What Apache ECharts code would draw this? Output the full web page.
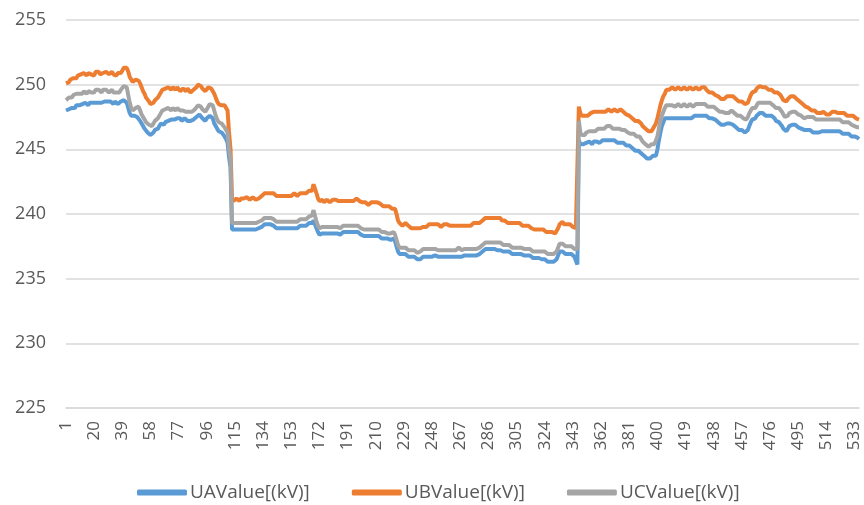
<!DOCTYPE html>
<html>
<head>
<meta charset="utf-8">
<script src="https://cdn.jsdelivr.net/npm/echarts@6/dist/echarts.min.js"></script>
<style>html,body{margin:0;padding:0;background:#fff}#c{width:864px;height:505px}</style>
</head>
<body>
<div id="c"></div>
<script>
const seriesNames = ['UAValue[(kV)]', 'UBValue[(kV)]', 'UCValue[(kV)]'];
const yTicks = [225, 230, 235, 240, 245, 250, 255];

const UA = [
248.0,248.1,248.1,248.2,248.2,248.3,248.2,248.4,248.3,248.4,
248.4,248.5,248.4,248.6,248.5,248.4,248.6,248.5,248.6,248.5,
248.6,248.5,248.6,248.7,248.6,248.5,248.7,248.6,248.7,248.6,
248.7,248.6,248.5,248.7,248.6,248.5,248.6,248.7,248.6,248.8,
248.8,248.6,248.2,247.8,247.6,247.7,247.6,247.7,247.5,247.4,
247.2,247.0,246.8,246.6,246.5,246.3,246.2,246.1,246.0,246.3,
246.5,246.4,246.6,246.8,247.0,247.0,246.9,247.1,247.0,247.2,
247.1,247.3,247.4,247.3,247.2,247.4,247.3,247.4,247.2,247.3,
247.4,247.3,247.2,247.3,247.2,247.1,247.3,247.4,247.5,247.6,
247.7,247.6,247.4,247.3,247.2,247.4,247.5,247.6,247.5,247.4,
247.0,246.8,246.6,246.4,246.3,246.3,246.2,246.0,245.8,245.5,
244.4,243.6,
238.8,238.7,238.8,238.7,238.8,238.9,238.8,238.7,
238.8,238.9,238.8,238.7,238.8,238.9,238.8,238.9,238.8,238.9,
238.9,238.9,239.0,239.1,239.2,239.1,239.2,239.1,239.2,239.1,
239.1,239.0,238.9,239.0,238.9,238.8,238.9,238.8,238.9,239.0,
238.9,238.8,238.9,239.0,238.9,239.0,238.9,239.0,239.1,239.0,
239.1,239.0,239.1,239.2,239.3,239.2,239.3,239.5,239.5,238.9,
238.6,238.4,238.4,238.5,238.4,238.5,238.6,238.5,238.4,238.5,
238.6,238.5,238.4,238.5,238.4,238.4,238.5,238.6,238.5,238.6,
238.5,238.6,238.7,238.6,238.7,238.6,238.7,238.6,238.5,238.4,
238.4,238.3,238.4,238.3,238.2,238.3,238.4,238.3,238.2,238.3,
238.4,238.3,238.2,238.1,238.2,238.1,238.2,238.1,238.0,238.0,
238.0,238.1,237.9,237.5,237.1,
236.9,236.8,236.9,237.0,236.9,
236.8,236.7,236.8,236.7,236.6,236.7,236.6,236.5,236.5,236.5,
236.6,236.7,236.6,236.7,236.8,236.7,236.8,236.7,236.8,236.8,
236.8,236.7,236.8,236.7,236.6,236.7,236.6,236.7,236.6,236.7,
236.8,236.7,236.8,236.7,236.8,236.7,236.8,236.7,236.7,236.8,
236.7,236.8,236.9,236.8,236.9,236.8,236.9,236.8,236.9,236.9,
237.0,237.1,237.2,237.3,237.2,237.3,237.4,237.3,237.4,237.3,
237.3,237.2,237.3,237.2,237.1,237.1,237.2,237.1,237.0,237.1,
237.0,236.9,237.0,236.9,237.0,236.9,236.8,236.9,236.8,236.8,
236.7,236.8,236.7,236.8,236.7,236.6,236.7,236.6,236.7,236.6,
236.6,236.5,236.4,236.5,236.4,236.3,236.4,236.3,236.4,236.3,
236.4,236.5,236.8,237.1,237.2,237.1,237.0,236.9,237.0,236.9,
237.0,236.9,236.8,236.7,236.6,236.1,
245.7,245.4,245.3,245.4,
245.3,245.5,245.4,245.6,245.5,245.4,245.6,245.5,245.6,245.5,
245.5,245.6,245.7,245.6,245.7,245.6,245.7,245.6,245.7,245.6,
245.7,245.6,245.5,245.6,245.5,245.6,245.5,245.4,245.3,245.4,
245.3,245.2,245.1,245.0,244.9,245.0,244.9,244.8,244.7,244.6,
244.5,244.4,244.3,244.2,244.3,244.4,244.5,244.6,244.5,245.0,
245.7,246.3,246.8,247.1,247.4,247.5,247.4,247.5,247.4,247.3,
247.4,247.3,247.4,247.5,247.4,247.3,247.4,247.5,247.4,247.3,
247.4,247.5,247.4,247.5,247.6,247.5,247.6,247.5,247.6,247.7,
247.6,247.7,247.6,247.5,247.4,247.5,247.4,247.3,247.3,247.2,
247.1,247.0,246.9,247.0,246.9,246.9,247.0,246.9,247.0,246.9,
246.9,246.8,246.7,246.6,246.5,246.4,246.5,246.4,246.3,246.3,
246.5,246.8,247.1,247.3,247.4,247.4,247.6,247.7,247.8,247.7,
247.8,247.7,247.6,247.7,247.6,247.7,247.6,247.5,247.4,247.2,
247.2,247.1,247.0,246.8,246.6,246.5,246.4,246.6,246.8,246.9,
246.9,247.0,246.9,246.8,246.7,246.6,246.6,246.5,246.5,246.4,
246.5,246.4,246.5,246.4,246.3,246.4,246.3,246.4,246.3,246.3,
246.4,246.3,246.4,246.3,246.4,246.3,246.4,246.5,246.4,246.3,
246.4,246.3,246.4,246.3,246.2,246.3,246.2,246.1,246.2,246.1,
246.0,246.1,246.0,245.9,245.9,245.8
];

const UB = [
250.1,250.2,250.2,250.4,250.3,250.5,250.6,250.5,250.7,250.6,
250.8,250.7,250.9,250.8,250.7,250.9,251.0,250.8,250.9,250.7,
251.0,250.9,251.0,250.8,250.7,250.9,250.8,251.0,250.9,250.8,
250.9,251.0,250.8,250.9,250.7,250.9,250.8,250.9,251.1,251.3,
251.4,251.3,251.0,250.6,250.4,250.2,250.3,250.4,250.5,250.3,
250.1,249.8,249.5,249.3,249.0,248.9,248.7,248.5,248.4,248.6,
248.8,248.7,249.0,249.2,249.3,249.6,249.5,249.7,249.6,249.8,
249.7,249.6,249.8,249.7,249.6,249.8,249.7,249.5,249.6,249.7,
249.6,249.5,249.7,249.6,249.4,249.5,249.6,249.7,249.8,250.0,
250.1,249.9,249.7,249.6,249.5,249.6,249.8,249.9,249.7,249.6,
249.3,249.0,248.7,248.5,248.4,248.4,248.5,248.4,248.2,248.0,
246.3,245.0,
241.2,241.0,241.1,241.2,241.1,241.0,241.2,241.1,
241.2,241.1,241.3,241.2,241.1,241.2,241.3,241.2,241.1,241.2,
241.2,241.3,241.4,241.5,241.6,241.5,241.6,241.7,241.6,241.5,
241.6,241.5,241.4,241.3,241.4,241.3,241.4,241.3,241.4,241.5,
241.4,241.5,241.4,241.5,241.6,241.5,241.4,241.5,241.6,241.5,
241.6,241.5,241.6,241.7,241.8,241.7,241.8,242.3,242.4,241.6,
241.2,241.0,241.0,241.1,240.9,241.0,241.1,241.0,240.9,241.0,
241.1,241.0,241.1,241.0,241.0,240.9,241.0,241.1,241.0,241.1,
241.0,240.9,241.0,241.1,241.0,241.1,241.2,241.1,241.0,240.9,
240.9,240.8,240.9,240.8,240.7,240.8,240.9,240.8,240.9,240.8,
240.9,241.0,240.8,240.7,240.6,240.7,240.6,240.5,240.6,240.5,
240.4,240.5,240.4,240.0,239.5,
239.3,239.2,239.1,239.2,239.3,
239.2,239.1,239.0,238.9,239.0,238.9,238.8,238.9,239.0,238.9,
238.9,239.0,239.1,239.0,239.1,239.2,239.1,239.2,239.1,239.2,
239.1,239.2,239.1,239.0,239.1,239.2,239.1,239.2,239.1,239.1,
239.2,239.1,239.0,239.1,239.2,239.1,239.2,239.1,239.0,239.1,
239.2,239.1,239.2,239.1,239.2,239.3,239.2,239.3,239.2,239.3,
239.4,239.5,239.6,239.7,239.6,239.7,239.8,239.7,239.6,239.7,
239.8,239.7,239.6,239.7,239.5,239.4,239.5,239.4,239.3,239.4,
239.3,239.4,239.3,239.2,239.3,239.2,239.3,239.2,239.1,239.2,
239.1,239.0,239.1,239.0,238.9,238.9,238.8,238.9,238.8,238.8,
238.8,238.7,238.8,238.7,238.6,238.7,238.6,238.5,238.6,238.5,
238.5,238.6,238.9,239.2,239.3,239.4,239.2,239.1,239.2,239.1,
239.2,239.1,239.0,238.9,238.9,239.0,
248.3,247.8,247.6,247.7,
247.6,247.7,247.6,247.7,247.8,247.7,247.9,247.8,247.9,247.8,
247.9,248.0,247.9,248.0,247.9,248.0,248.1,248.0,247.9,248.0,
248.1,248.0,247.9,248.0,248.1,248.0,247.9,247.8,247.7,247.6,
247.6,247.5,247.4,247.3,247.2,247.1,247.2,247.1,247.0,246.8,
246.7,246.6,246.5,246.4,246.5,246.4,246.6,246.7,247.0,247.4,
247.9,248.4,248.8,249.1,249.3,249.6,249.7,249.6,249.7,249.8,
249.7,249.6,249.7,249.8,249.7,249.6,249.7,249.8,249.7,249.6,
249.7,249.8,249.7,249.6,249.7,249.8,249.7,249.6,249.7,249.8,
249.7,249.8,249.6,249.5,249.4,249.3,249.4,249.3,249.2,249.1,
249.1,249.0,248.9,249.0,248.9,249.0,249.1,249.0,249.1,249.2,
249.1,249.0,248.9,248.8,248.7,248.8,248.7,248.6,248.5,248.4,
248.6,248.9,249.2,249.4,249.5,249.5,249.7,249.8,249.9,249.8,
249.8,249.7,249.8,249.7,249.6,249.7,249.6,249.5,249.4,249.3,
249.4,249.3,249.2,249.0,248.8,248.7,248.7,248.9,249.0,249.1,
249.2,249.1,249.0,248.9,248.8,248.7,248.6,248.5,248.4,248.3,
248.2,248.2,248.1,248.0,247.9,248.0,247.9,247.8,247.9,247.8,
247.8,247.9,247.8,247.7,247.8,247.7,247.8,247.9,247.8,247.9,
247.9,247.8,247.9,247.8,247.7,247.8,247.7,247.6,247.7,247.6,
247.5,247.6,247.5,247.4,247.3,247.3
];

const UC = [
248.8,248.9,249.0,249.1,249.0,249.2,249.1,249.3,249.2,249.3,
249.4,249.3,249.5,249.4,249.3,249.5,249.6,249.4,249.5,249.4,
249.6,249.5,249.6,249.5,249.4,249.6,249.5,249.6,249.5,249.4,
249.5,249.6,249.4,249.5,249.4,249.5,249.4,249.6,249.7,249.9,
250.0,249.8,249.2,248.6,248.2,248.0,248.1,248.2,248.3,248.3,
248.0,247.7,247.5,247.3,247.1,247.0,246.9,246.9,246.8,247.0,
247.2,247.1,247.4,247.6,247.8,248.0,247.9,248.1,248.0,248.2,
248.1,248.0,248.2,248.1,248.0,248.2,248.1,248.0,247.9,248.0,
248.1,247.9,248.0,247.9,247.8,247.9,248.0,248.1,248.2,248.4,
248.4,248.3,248.1,248.0,247.9,248.1,248.3,248.5,248.6,248.4,
248.0,247.6,247.3,247.1,247.0,247.0,246.9,246.7,246.5,246.3,
245.0,244.2,
239.3,239.2,239.3,239.2,239.3,239.4,239.3,239.2,
239.3,239.4,239.3,239.2,239.3,239.4,239.3,239.4,239.3,239.4,
239.4,239.4,239.5,239.6,239.7,239.6,239.7,239.6,239.7,239.6,
239.6,239.5,239.4,239.5,239.4,239.3,239.4,239.3,239.4,239.5,
239.4,239.3,239.4,239.5,239.4,239.5,239.4,239.5,239.6,239.5,
239.6,239.5,239.6,239.7,239.8,239.7,239.9,240.3,240.2,239.4,
239.1,238.9,238.9,239.0,238.9,239.0,239.1,239.0,238.9,239.0,
239.1,239.0,239.1,239.0,239.0,238.9,239.0,239.1,239.0,239.1,
239.0,239.1,239.2,239.1,239.2,239.1,239.2,239.1,239.0,238.9,
238.9,238.8,238.9,238.8,238.7,238.8,238.9,238.8,238.7,238.8,
238.9,238.8,238.7,238.6,238.7,238.6,238.6,238.5,238.6,238.5,
238.5,238.6,238.4,238.0,237.6,
237.4,237.3,237.4,237.5,237.4,
237.3,237.2,237.3,237.2,237.1,237.2,237.1,237.0,237.1,237.1,
237.2,237.3,237.2,237.3,237.4,237.3,237.4,237.3,237.4,237.3,
237.3,237.2,237.3,237.2,237.1,237.2,237.3,237.2,237.3,237.2,
237.3,237.2,237.3,237.2,237.3,237.4,237.3,237.2,237.3,237.3,
237.2,237.3,237.4,237.3,237.4,237.3,237.4,237.3,237.4,237.4,
237.5,237.6,237.7,237.8,237.7,237.8,237.9,237.8,237.9,237.8,
237.9,237.8,237.9,237.8,237.7,237.6,237.7,237.6,237.5,237.6,
237.5,237.4,237.5,237.4,237.5,237.4,237.3,237.4,237.3,237.3,
237.2,237.3,237.2,237.3,237.2,237.1,237.2,237.1,237.2,237.1,
237.2,237.1,237.0,237.1,237.0,236.9,237.0,236.9,237.0,236.9,
237.0,237.1,237.4,237.7,237.8,237.7,237.6,237.5,237.6,237.5,
237.6,237.5,237.4,237.3,237.2,237.3,
247.2,246.3,246.1,246.2,
246.1,246.3,246.2,246.4,246.3,246.4,246.5,246.4,246.5,246.6,
246.5,246.6,246.7,246.6,246.7,246.8,246.7,246.8,246.7,246.6,
246.7,246.6,246.7,246.6,246.6,246.5,246.6,246.5,246.4,246.3,
246.3,246.2,246.1,246.2,246.1,246.0,246.1,246.0,245.8,245.6,
245.5,245.4,245.3,245.2,245.3,245.4,245.5,245.4,245.5,246.0,
246.6,247.2,247.6,247.9,248.2,248.4,248.3,248.4,248.3,248.4,
248.4,248.3,248.4,248.5,248.4,248.3,248.4,248.5,248.4,248.3,
248.4,248.5,248.4,248.3,248.4,248.5,248.4,248.5,248.6,248.5,
248.6,248.5,248.4,248.3,248.4,248.3,248.2,248.3,248.2,248.1,
248.0,247.9,247.8,247.9,247.8,247.8,247.9,247.8,247.9,248.0,
247.9,247.8,247.7,247.6,247.5,247.6,247.5,247.4,247.3,247.3,
247.5,247.8,248.0,248.2,248.3,248.2,248.4,248.6,248.7,248.6,
248.7,248.6,248.5,248.6,248.5,248.6,248.5,248.4,248.3,248.2,
248.3,248.2,248.1,247.9,247.7,247.5,247.4,247.6,247.8,247.9,
247.9,248.0,247.9,247.8,247.7,247.6,247.6,247.5,247.4,247.5,
247.5,247.6,247.5,247.4,247.5,247.4,247.3,247.4,247.3,247.3,
247.3,247.2,247.3,247.2,247.3,247.2,247.3,247.4,247.3,247.3,
247.3,247.2,247.3,247.2,247.1,247.2,247.1,247.0,247.1,247.0,
246.9,246.9,246.8,246.8,246.7,246.7
];

const categories = [];
for (let i = 1; i <= UA.length; i++) categories.push(String(i));

const colors = ['#5B9BD5', '#ED7D31', '#A5A5A5'];
const font = '"Open Sans", "Noto Sans", sans-serif';

const chart = echarts.init(document.getElementById('c'), null, {renderer: 'canvas'});
chart.setOption({
  animation: false,
  color: colors,
  grid: {left: 66, right: 5, top: 20, bottom: 97, containLabel: false},
  xAxis: {
    type: 'category',
    data: categories,
    boundaryGap: false,
    axisLine: {show: true, lineStyle: {color: '#D9D9D9', width: 1.5}},
    axisTick: {show: false},
    axisLabel: {
      interval: 18,
      rotate: 90,
      margin: 13,
      color: '#595959',
      fontSize: 17,
      fontFamily: font
    },
    splitLine: {show: false}
  },
  yAxis: {
    type: 'value',
    min: yTicks[0],
    max: yTicks[yTicks.length - 1],
    interval: 5,
    axisLine: {show: false},
    axisTick: {show: false},
    axisLabel: {color: '#595959', fontSize: 18, fontFamily: font, margin: 20},
    splitLine: {lineStyle: {color: '#D9D9D9', width: 1.5}}
  },
  legend: {
    bottom: -2,
    left: 132,
    itemWidth: 50,
    itemHeight: 6,
    itemGap: 42,
    icon: 'roundRect',
    textStyle: {color: '#595959', fontSize: 19, fontFamily: font, padding: [0, 0, 0, -2]},
    data: seriesNames
  },
  series: [
    {name: seriesNames[0], type: 'line', data: UA, showSymbol: false, symbol: 'none', lineStyle: {width: 4, color: colors[0]}},
    {name: seriesNames[1], type: 'line', data: UB, showSymbol: false, symbol: 'none', lineStyle: {width: 4, color: colors[1]}},
    {name: seriesNames[2], type: 'line', data: UC, showSymbol: false, symbol: 'none', lineStyle: {width: 4, color: colors[2]}}
  ]
});
</script>
</body>
</html>
